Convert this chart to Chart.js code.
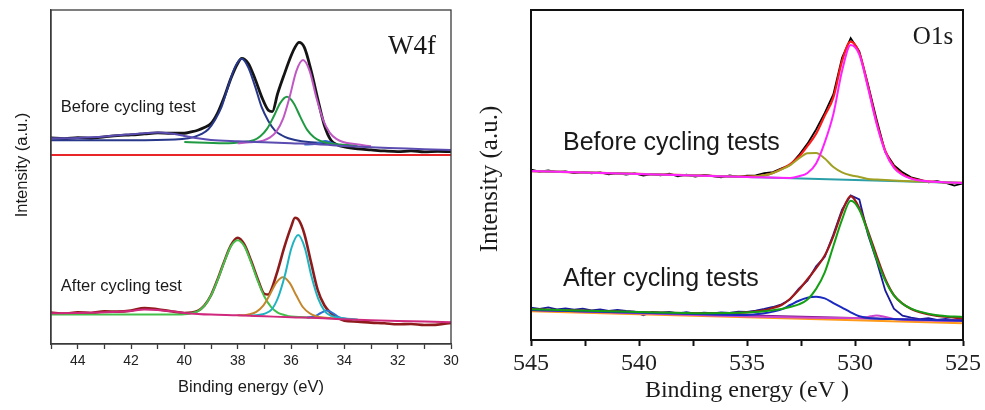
<!DOCTYPE html>
<html>
<head>
<meta charset="utf-8">
<script src="https://cdn.jsdelivr.net/npm/chart.js@4.4.0/dist/chart.umd.min.js"></script>
<style>
  html, body { margin: 0; padding: 0; background: #fff; }
  #wrap { position: relative; width: 985px; height: 410px; }
  canvas { position: absolute; top: 0; }
  #w4f { left: 0; }
  #o1s { left: 470px; }
</style>
</head>
<body>
<div id="wrap">
  <canvas id="w4f" width="470" height="410"></canvas>
  <canvas id="o1s" width="515" height="410"></canvas>
</div>
<script>
// ---- W4f, before cycling (binding energy in eV, intensity in a.u.) ----
var wbEnvX = [45, 44.5, 44, 43.5, 43, 42.5, 42, 41.5, 41, 40.5, 40, 39.75, 39.5, 39.25, 39, 38.75, 38.5, 38.25, 38, 37.85, 37.6, 37.35, 37.1, 36.85, 36.7, 36.5, 36.25, 36, 35.85, 35.7, 35.5, 35.25, 35, 34.75, 34.5, 34.25, 34, 33.5, 33, 32.5, 32, 31.5, 31, 30.5, 30];
var wbEnvY = [61.7, 61.5, 61.8, 61.6, 62.0, 62.4, 62.6, 62.9, 63.2, 63.1, 63.1, 63.5, 64.0, 64.8, 66.0, 69.2, 74.0, 79.6, 84.0, 85.5, 84.0, 79.4, 74.0, 70.0, 69.6, 75.0, 80.8, 86.2, 88.8, 90.3, 88.8, 82.0, 73.5, 65.5, 61.0, 59.6, 59.0, 58.4, 58.1, 57.8, 57.6, 57.8, 57.5, 57.7, 57.6];
var wbNavyX = [45, 42, 40.35, 39.85, 39.6, 39.35, 39.1, 38.85, 38.6, 38.35, 38.1, 37.85, 37.6, 37.35, 37.1, 36.85, 36.6, 36.35, 36.1, 35.85, 35.35, 34.5];
var wbNavyY = [61.0, 61.0, 61.2, 61.6, 62.1, 62.9, 64.3, 67.1, 71.1, 77.3, 82.9, 85.4, 82.8, 77.2, 70.9, 66.8, 63.9, 62.5, 61.6, 61.1, 60.5, 60.1];
var wbGreenX = [40, 38.5, 38.15, 37.65, 37.4, 37.15, 36.9, 36.65, 36.4, 36.15, 35.9, 35.65, 35.4, 35.15, 34.9, 34.65, 34.15, 33.5];
var wbGreenY = [60.5, 60.1, 60.2, 60.6, 61.0, 62.2, 64.4, 68.1, 72.2, 74.0, 72.1, 68.0, 64.2, 62.0, 60.8, 60.2, 59.7, 59.4];
var wbMagX = [38, 37.55, 37.05, 36.8, 36.55, 36.3, 36.05, 35.8, 35.55, 35.3, 35.05, 34.8, 34.55, 34.3, 34.05, 33.55, 33];
var wbMagY = [60.1, 60.4, 60.9, 61.8, 63.6, 67.4, 74.0, 81.7, 85.0, 81.7, 73.8, 67.2, 63.3, 61.4, 60.5, 59.8, 59.2];
var wbBlueX = [35.5, 35.1, 34.9, 34.72, 34.5, 34.25, 33.8];
var wbBlueY = [59.7, 59.9, 60.4, 60.8, 60.3, 59.6, 59.3];
var wbBgX = [45, 44, 43, 42.5, 42, 41.5, 41, 40.5, 40, 39.5, 39, 38, 37, 36, 35, 34, 33, 32, 31, 30];
var wbBgY = [61.6, 61.7, 62.1, 62.5, 62.8, 63.1, 63.3, 63.0, 62.3, 61.6, 61.1, 60.7, 60.4, 60.1, 59.8, 59.3, 58.9, 58.6, 58.3, 58.1];
var wbRedX = [45, 30];
var wbRedY = [56.6, 56.6];

// ---- W4f, after cycling ----
var waEnvX = [45, 44.5, 44, 43.5, 43, 42.5, 42, 41.5, 41, 40.5, 40, 39.75, 39.5, 39.25, 39, 38.75, 38.5, 38.25, 38, 37.75, 37.5, 37.25, 37, 36.85, 36.75, 36.5, 36.25, 36, 35.85, 35.7, 35.5, 35.25, 35, 34.75, 34.5, 34.25, 34, 33.5, 33, 32.5, 32, 31.5, 31, 30.5, 30];
var waEnvY = [9.4, 9.1, 9.5, 9.3, 9.8, 9.7, 10.0, 10.8, 10.4, 9.8, 9.3, 9.4, 9.9, 11.5, 14.6, 19.4, 24.8, 29.6, 31.8, 29.8, 25.0, 19.5, 15.0, 14.8, 16.0, 22.0, 29.0, 35.0, 37.8, 37.0, 33.0, 24.5, 16.2, 11.6, 9.2, 7.8, 7.0, 6.7, 6.4, 6.2, 5.9, 6.0, 5.7, 5.8, 6.3];
var waGreenX = [45, 42, 40.5, 40, 39.75, 39.5, 39.25, 39, 38.75, 38.5, 38.25, 38, 37.75, 37.5, 37.25, 37, 36.75, 36.5, 36.25, 36, 35];
var waGreenY = [8.8, 8.8, 8.8, 8.9, 9.2, 9.8, 11.4, 14.5, 19.2, 24.6, 29.3, 31.1, 29.3, 24.5, 19.0, 14.2, 11.1, 9.4, 8.7, 8.2, 7.9];
var waTealX = [37.5, 37.23, 36.98, 36.73, 36.48, 36.23, 35.98, 35.73, 35.48, 35.23, 34.98, 34.73, 34.48, 34.23, 33.5];
var waTealY = [8.5, 8.7, 9.1, 10.3, 14.0, 20.5, 28.8, 32.6, 28.7, 20.2, 13.6, 9.8, 8.4, 7.9, 7.3];
var waBrownX = [38, 37.8, 37.55, 37.3, 37.05, 36.8, 36.55, 36.3, 36.05, 35.8, 35.55, 35.3, 35.05, 34.8, 34];
var waBrownY = [8.6, 8.6, 8.9, 9.6, 11.4, 14.7, 18.4, 20.0, 18.3, 14.5, 11.0, 9.2, 8.3, 7.9, 7.5];
var waBlueX = [35.4, 35.1, 34.9, 34.66, 34.4, 34.2, 33.9];
var waBlueY = [7.9, 8.3, 9.2, 10.0, 9.1, 8.0, 7.5];
var waBgX = [45, 44, 43, 42, 41.5, 41, 40.5, 40, 39.5, 39, 38, 37, 36, 35, 34, 33, 32, 31, 30];
var waBgY = [9.2, 9.3, 9.5, 9.9, 10.3, 10.2, 9.8, 9.3, 9.0, 8.8, 8.6, 8.3, 8.0, 7.8, 7.4, 7.1, 6.9, 6.7, 6.5];

// ---- O1s, measured points (shared energy grid) ----
var oX = [545, 544.6, 544.2, 543.8, 543.4, 543, 542.6, 542.2, 541.8, 541.4, 541, 540.6, 540.2, 539.8, 539.4, 539, 538.6, 538.2, 537.8, 537.4, 537, 536.6, 536.2, 535.8, 535.4, 535, 534.6, 534.2, 533.8, 533.4, 533, 532.6, 532.2, 531.8, 531.4, 531, 530.6, 530.2, 529.8, 529.4, 529, 528.6, 528.2, 527.8, 527.4, 527, 526.6, 526.2, 525.8, 525.4, 525];
var obData = [51.6, 51.0, 51.4, 50.9, 51.1, 50.6, 50.9, 50.5, 50.8, 50.2, 50.6, 50.1, 50.5, 49.8, 50.3, 49.9, 50.4, 49.6, 50.1, 49.5, 50.0, 49.7, 49.3, 49.9, 49.4, 49.8, 49.9, 50.6, 50.9, 52.0, 53.0, 56.0, 59.5, 63.8, 68.8, 74.5, 85.5, 91.5, 87.5, 77.5, 66.8, 57.0, 53.0, 50.8, 49.3, 48.6, 47.8, 48.1, 47.6, 46.8, 47.5];
var oaData = [9.8, 9.4, 9.9, 9.3, 9.6, 9.2, 9.5, 9.0, 9.3, 8.8, 9.1, 8.8, 8.6, 7.5, 8.5, 8.3, 8.5, 8.1, 8.4, 8.0, 8.3, 8.1, 8.4, 8.2, 8.6, 8.5, 8.9, 9.4, 10.0, 10.8, 12.3, 15.6, 18.0, 22.3, 25.2, 32.0, 39.5, 43.8, 42.6, 32.0, 24.0, 15.0, 9.5, 7.4, 6.8, 6.3, 6.6, 6.1, 6.4, 6.0, 6.2];

// ---- O1s, before cycling fits ----
var obEnvX = [545, 541, 537, 535, 534.2, 533.8, 533.4, 533, 532.6, 532.2, 531.8, 531.4, 531, 530.6, 530.2, 529.8, 529.4, 529, 528.6, 528.2, 527.8, 527.4, 527, 526, 525];
var obEnvY = [51.2, 50.5, 49.8, 49.5, 49.9, 50.6, 51.8, 53.3, 55.5, 58.8, 62.5, 68.0, 73.5, 84.5, 90.4, 87.0, 77.0, 66.0, 57.4, 52.5, 50.2, 49.0, 48.4, 47.8, 47.6];
var obMagX = [545, 535, 533, 532.6, 532.2, 531.8, 531.4, 531, 530.6, 530.2, 529.8, 529.4, 529, 528.6, 528.2, 527.8, 527.4, 527, 525];
var obMagY = [51.2, 49.4, 49.1, 49.6, 50.6, 53.5, 59.9, 68.5, 81.5, 89.4, 86.5, 76.5, 65.5, 57.0, 52.2, 50.0, 48.9, 48.3, 47.6];
var obOliveX = [545, 537, 535, 534.2, 533.8, 533.4, 533, 532.6, 532.2, 531.8, 531.4, 531, 530.6, 530.2, 529.8, 529.4, 529, 528.2, 527, 525];
var obOliveY = [51.2, 49.8, 49.5, 49.9, 50.6, 51.7, 53.0, 55.0, 56.6, 56.7, 55.0, 52.4, 50.8, 49.9, 49.4, 48.8, 48.6, 48.3, 48.0, 47.6];
var obBaseX = [545, 525];
var obBaseY = [51.2, 47.6];

// ---- O1s, after cycling fits ----
var oaEnvX = [545, 541, 537, 535, 534.2, 533.8, 533.4, 533, 532.6, 532.2, 531.8, 531.4, 531, 530.6, 530.2, 529.8, 529.4, 529, 528.6, 528.2, 527.8, 527.4, 527, 526.2, 525.4, 525];
var oaEnvY = [9.3, 8.6, 8.1, 8.4, 9.0, 9.7, 10.6, 12.5, 15.2, 18.4, 21.8, 25.6, 31.5, 38.8, 43.6, 40.0, 33.0, 25.5, 18.5, 13.6, 11.0, 9.4, 8.4, 7.3, 6.8, 6.5];
var oaGreenX = [545, 540, 537, 535, 534.2, 533.8, 533.4, 533, 532.6, 532.2, 531.8, 531.4, 531, 530.6, 530.2, 529.8, 529.4, 529, 528.6, 528.2, 527.8, 527.4, 527, 526.2, 525.4, 525];
var oaGreenY = [9.3, 8.5, 8.1, 8.3, 8.7, 9.0, 9.4, 10.0, 10.8, 12.3, 15.5, 20.5, 28.5, 36.5, 42.2, 39.5, 32.5, 24.5, 18.0, 13.5, 11.0, 9.5, 8.6, 7.5, 7.1, 7.0];
var oaBlueX = [545, 537, 535, 534.6, 534.2, 533.8, 533.4, 533, 532.6, 532.2, 531.8, 531.4, 531, 530.6, 530.2, 529.8, 529.4, 529, 528, 525];
var oaBlueY = [9.1, 7.8, 7.6, 7.8, 8.1, 8.6, 9.3, 10.6, 11.9, 12.8, 13.1, 12.6, 11.2, 9.8, 8.4, 7.2, 6.7, 6.5, 6.3, 5.8];
var oaBumpX = [545, 530.2, 529.8, 529.4, 529, 528.6, 528.2, 525];
var oaBumpY = [9.1, 6.7, 6.7, 7.0, 7.4, 7.0, 6.4, 5.8];
var oaBgX = [545, 525];
var oaBgY = [9.1, 5.8];
var oaOrangeX = [545, 525];
var oaOrangeY = [8.7, 5.1];

var SANS = "'Liberation Sans', Arial, sans-serif";
var SERIF = "'Liberation Serif', 'Times New Roman', serif";

function curve(xs, ys, color, width, smooth) {
  return {
    data: xs.map(function(x, i) { return { x: x, y: ys[i] }; }),
    borderColor: color,
    borderWidth: width,
    pointRadius: 0,
    fill: false,
    tension: 0,
    cubicInterpolationMode: smooth ? 'monotone' : 'default'
  };
}

// frame round the plot area plus the text placed in data units
var boxAndText = {
  id: 'boxAndText',
  afterDraw: function(chart, args, opts) {
    var ctx = chart.ctx, a = chart.chartArea;
    var xs = chart.scales.x, ys = chart.scales.y;
    ctx.save();
    ctx.strokeStyle = opts.frameColor;
    ctx.lineWidth = opts.frameWidth;
    ctx.strokeRect(a.left, a.top, a.right - a.left, a.bottom - a.top);
    ctx.fillStyle = '#1a1a1a';
    ctx.textBaseline = 'middle';
    opts.labels.forEach(function(l) {
      ctx.font = l.font;
      var py = ys.getPixelForValue(l.y);
      if (l.rotate) {
        ctx.save();
        ctx.translate(l.px, py);
        ctx.rotate(-Math.PI / 2);
        ctx.textAlign = 'center';
        ctx.fillText(l.text, 0, 0);
        ctx.restore();
      } else {
        ctx.textAlign = l.align || 'left';
        ctx.fillText(l.text, xs.getPixelForValue(l.x), py);
      }
    });
    ctx.restore();
  }
};

function makeChart(id, datasets, c) {
  return new Chart(document.getElementById(id), {
    type: 'line',
    data: { datasets: datasets },
    options: {
      responsive: false,
      animation: false,
      devicePixelRatio: 1,
      layout: { padding: { left: 0, right: c.padRight, top: 10, bottom: 0 } },
      plugins: {
        legend: { display: false },
        tooltip: { enabled: false },
        boxAndText: { frameColor: c.axisColor, frameWidth: c.axisWidth, labels: c.labels }
      },
      scales: {
        x: {
          type: 'linear',
          reverse: true,
          min: c.xMin,
          max: c.xMax,
          afterFit: function(s) { s.height = c.xHeight; },
          ticks: {
            stepSize: c.step,
            autoSkip: false,
            maxRotation: 0,
            includeBounds: false,
            padding: c.tickPad,
            color: '#222',
            font: c.tickFont,
            callback: c.tickLabel
          },
          grid: { drawOnChartArea: false, tickLength: c.tickLen, tickColor: c.axisColor, tickWidth: c.axisWidth },
          border: { color: c.axisColor, width: c.axisWidth },
          title: { display: true, text: c.xTitle, color: '#1a1a1a', font: c.titleFont, padding: { top: 0, bottom: c.titlePad } }
        },
        y: {
          min: 0,
          max: 100,
          afterFit: function(s) { s.width = c.yWidth; },
          ticks: { display: false },
          grid: { drawOnChartArea: false, drawTicks: false },
          border: { color: c.axisColor, width: c.axisWidth }
        }
      }
    },
    plugins: [boxAndText]
  });
}

makeChart('w4f', [
  curve(wbBgX, wbBgY, '#5a4cb0', 2, true),
  curve(wbMagX, wbMagY, '#c058c4', 2, true),
  curve(wbGreenX, wbGreenY, '#1f9a42', 2, true),
  curve(wbBlueX, wbBlueY, '#2c6fd1', 2, true),
  curve(wbNavyX, wbNavyY, '#27378a', 2, true),
  curve(wbEnvX, wbEnvY, '#141414', 2.8, true),
  curve(wbRedX, wbRedY, '#e8262a', 2, false),
  curve(waBgX, waBgY, '#d0287c', 2, true),
  curve(waTealX, waTealY, '#1fb3c0', 2, true),
  curve(waBrownX, waBrownY, '#c4862a', 2, true),
  curve(waBlueX, waBlueY, '#2f6fd0', 2, true),
  curve(waGreenX, waGreenY, '#45c04a', 2, true),
  curve(waEnvX, waEnvY, '#8e1b1b', 2.6, true)
], {
  padRight: 19, xMin: 30, xMax: 45, step: 1, xHeight: 66, yWidth: 51,
  tickLabel: function(v) { return v % 2 === 0 ? v : ''; },
  tickFont: { family: SANS, size: 14 }, tickPad: 4, tickLen: 5,
  axisColor: '#3a3a3a', axisWidth: 1.3,
  xTitle: 'Binding energy (eV)', titleFont: { family: SANS, size: 16.5 }, titlePad: 13,
  labels: [
    { text: 'Before cycling test', x: 44.63, y: 70.7, font: '16.5px ' + SANS },
    { text: 'After cycling test', x: 44.63, y: 17.1, font: '16.5px ' + SANS },
    { text: 'W4f', x: 31.46, y: 88.9, align: 'center', font: '27px ' + SERIF },
    { text: 'Intensity (a.u.)', rotate: true, px: 22, y: 53.6, font: '16.5px ' + SANS }
  ]
});

makeChart('o1s', [
  curve(obMagX, obMagY, '#ff22ff', 2, true),
  curve(obOliveX, obOliveY, '#a0a024', 2, true),
  curve(obBaseX, obBaseY, '#2a9fa8', 2, false),
  curve(obEnvX, obEnvY, '#ff1a1a', 2.2, true),
  curve(oX, obData, '#000000', 1.8, false),
  curve(oaGreenX, oaGreenY, '#14a014', 2, true),
  curve(oaBlueX, oaBlueY, '#1a2ac0', 2, true),
  curve(oaBumpX, oaBumpY, '#cc44cc', 2, true),
  curve(oaBgX, oaBgY, '#7a1a8a', 2, false),
  curve(oaOrangeX, oaOrangeY, '#ff9a1a', 2, false),
  curve(oaEnvX, oaEnvY, '#a01818', 2.2, true),
  curve(oX, oaData, '#1a1a9c', 1.8, false)
], {
  padRight: 22, xMin: 525, xMax: 545, step: 2.5, xHeight: 70, yWidth: 61,
  tickLabel: function(v) { return Math.abs(v % 5) < 1e-6 ? v : ''; },
  tickFont: { family: SERIF, size: 24 }, tickPad: 3, tickLen: 6,
  axisColor: '#111111', axisWidth: 2,
  xTitle: 'Binding energy (eV )', titleFont: { family: SERIF, size: 24 }, titlePad: 5,
  labels: [
    { text: 'Before cycling tests', x: 543.52, y: 59.7, font: '25px ' + SANS },
    { text: 'After cycling tests', x: 543.52, y: 18.5, font: '25px ' + SANS },
    { text: 'O1s', x: 526.39, y: 91.8, align: 'center', font: '25px ' + SERIF },
    { text: 'Intensity (a.u.)', rotate: true, px: 20, y: 48.8, font: '25px ' + SERIF }
  ]
});
</script>
</body>
</html>
